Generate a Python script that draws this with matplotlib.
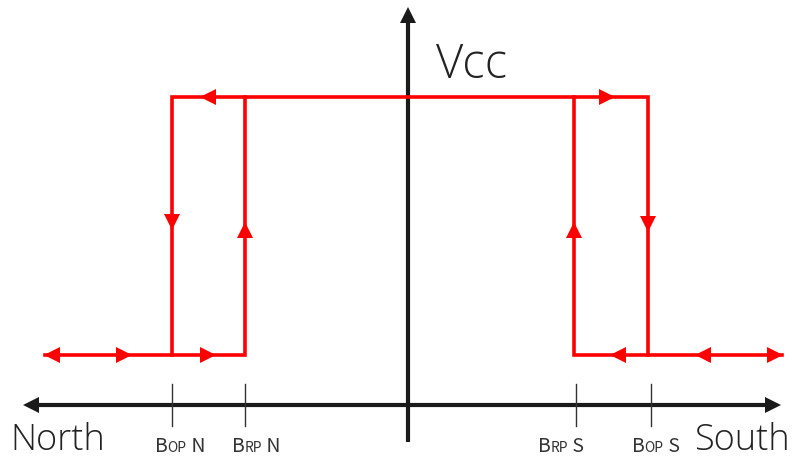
import matplotlib.pyplot as plt

plt.rcParams['font.family'] = ['Noto Sans CJK SC', 'DejaVu Sans']

# everything is in picture units (x to the right, y downward)
# hysteresis loop: the two field thresholds on each side
bop_n, brp_n = 172, 245
brp_s, bop_s = 574, 648
v_high, v_low = 97, 355
x_far_left, x_far_right = 45, 782

# outer path and inner path of the loop
path1_x = [x_far_left, brp_n, brp_n, bop_s, bop_s, x_far_right]
path1_y = [v_low, v_low, v_high, v_high, v_low, v_low]
path2a_x = [brp_n, bop_n, bop_n]
path2a_y = [v_high, v_high, v_low]
path2b_x = [bop_s, brp_s, brp_s]
path2b_y = [v_low, v_low, v_high]

# direction arrows along the loop: (x, y, marker)
arrows = [
    (52, v_low, '<'), (124, v_low, '>'), (208, v_low, '>'),
    (bop_n, 222, 'v'), (brp_n, 230, '^'),
    (208, v_high, '<'), (607, v_high, '>'),
    (brp_s, 230, '^'), (bop_s, 224, 'v'),
    (618, v_low, '<'), (703, v_low, '<'), (775, v_low, '>'),
]

# field axis ticks and labels (big letter, small caps part, pole)
tick_x = [bop_n, brp_n, brp_s + 2, bop_s + 3]
tick_labels = [("B", "OP", " N"), ("B", "RP", " N"), ("B", "RP", " S"), ("B", "OP", " S")]
label_x = [155, 232, 538, 632]

axis_y = 405
axis_x = 408

fig = plt.figure(figsize=(7.92, 4.58), dpi=100)
ax = fig.add_axes([0, 0, 1, 1])
ax.set_xlim(0, 792)
ax.set_ylim(458, 0)
ax.axis('off')

black = '#1a1a1a'
red = '#ff0000'

# axes with arrow heads
ax.plot([35, 772], [axis_y, axis_y], color=black, lw=3, solid_capstyle='butt')
ax.plot([axis_x, axis_x], [442, 18], color=black, lw=3, solid_capstyle='butt')
ax.plot([31], [axis_y], marker='<', ms=11, color=black, mew=0)
ax.plot([773], [axis_y], marker='>', ms=11, color=black, mew=0)
ax.plot([axis_x], [15], marker='^', ms=11, color=black, mew=0)

for tx in tick_x:
    ax.plot([tx, tx], [384, 426], color='#333333', lw=1)

# loop
ax.plot(path1_x, path1_y, color=red, lw=2.6, solid_joinstyle='miter')
ax.plot(path2a_x, path2a_y, color=red, lw=2.6, solid_joinstyle='miter')
ax.plot(path2b_x, path2b_y, color=red, lw=2.6, solid_joinstyle='miter')
for x, y, m in arrows:
    ax.plot([x], [y], marker=m, ms=12, color=red, mew=0)

# text
big_font = ['Open Sans', 'DejaVu Sans']
ax.text(436, 78, "Vcc", fontsize=34, color='#222222', weight='light', va='baseline', family=big_font)
ax.text(10, 450, "North", fontsize=26, color='#222222', weight='light', va='baseline', family=big_font)
ax.text(790, 450, "South", fontsize=26, color='#222222', weight='light', va='baseline', ha='right',
        family=big_font)

renderer = fig.canvas.get_renderer()
inv = ax.transData.inverted()
for (big, small, pole), lx in zip(tick_labels, label_x):
    x = lx
    for part, size in ((big, 14), (small, 10), (pole, 14)):
        t = ax.text(x, 452, part, fontsize=size, color='#333333', va='baseline', weight='light')
        bb = t.get_window_extent(renderer)
        x = inv.transform((bb.x1, bb.y0))[0]

fig.savefig('out.png', dpi=100)
